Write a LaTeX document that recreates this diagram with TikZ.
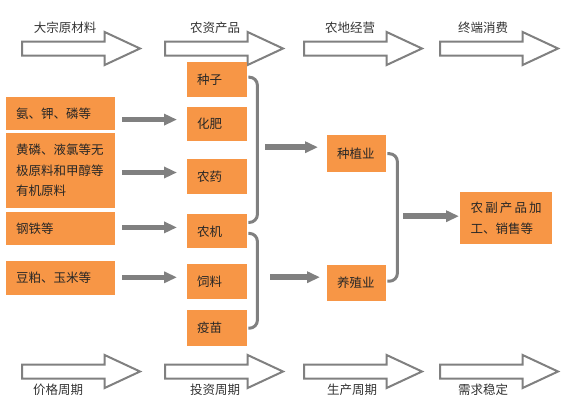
\documentclass[tikz,border=0pt]{standalone}
\usepackage{fontspec}
\setmainfont{Noto Sans CJK SC}
\usetikzlibrary{positioning}
\usetikzlibrary{shapes.arrows}
\usetikzlibrary{calc}
\usetikzlibrary{arrows.meta}
\definecolor{boxfill}{HTML}{F79646}
\definecolor{linegray}{HTML}{808080}
\XeTeXlinebreaklocale "zh"
\XeTeXlinebreakskip=0pt plus 3pt

\begin{document}
\begin{tikzpicture}[x=1pt, y=-1pt, font=\fontsize{12.5}{20.5}\selectfont,
        band/.style={draw=linegray, line width=2pt, fill=white, single arrow, anchor=tail,
            single arrow head extend=9.5pt, single arrow tip angle=50, single arrow head indent=0pt,
            inner sep=0pt, text height=6pt, text depth=6pt, minimum height=118pt},
        item/.style={fill=boxfill, text=black!85, inner xsep=10pt, inner ysep=0pt, align=left, anchor=north west},
        flow/.style={draw=linegray, line width=5.5pt, -{Triangle[length=13pt, width=11pt]}},
        brace/.style={draw=linegray, line width=3pt, rounded corners=8pt}]
        \useasboundingbox (0,0) rectangle (578,410);

        \node [band] (rawarr) at (21,48.5) {};
        \node [band] (agriarr) at (164,48.5) {};
        \node [band] (farmarr) at (303,48.5) {};
        \node [band] (consarr) at (439,48.5) {};
        \node [text=black!80] (rawlab) at (65,28) {大宗原材料};
        \node [text=black!80] (agrilab) at (215,28) {农资产品};
        \node [text=black!80] (farmlab) at (350,28) {农地经营};
        \node [text=black!80] (conslab) at (483,28) {终端消费};

        \node [band] (pricearr) at (21,371.5) {};
        \node [band] (investarr) at (164,371.5) {};
        \node [band] (prodarr) at (303,371.5) {};
        \node [band] (demandarr) at (439,371.5) {};
        \node [text=black!80] (pricelab) at (58,390) {价格周期};
        \node [text=black!80] (investlab) at (215,390) {投资周期};
        \node [text=black!80] (prodlab) at (352,390) {生产周期};
        \node [text=black!80] (demandlab) at (483,390) {需求稳定};

        \node [item, text width=89pt, minimum height=33pt] (ammonia) at (6,97) {氨、钾、磷等};
        \node [item, text width=89pt, minimum height=75pt] (phos) at (6,133) {黄磷、液氯等无\\极原料和甲醇等\\有机原料};
        \node [item, text width=89pt, minimum height=33pt] (steel) at (6,212) {钢铁等};
        \node [item, text width=89pt, minimum height=34pt] (soy) at (6,261) {豆粕、玉米等};

        \node [item, text width=40pt, minimum height=35pt] (seed) at (187,62) {种子};
        \node [item, text width=40pt, minimum height=34pt, below=9pt of seed] (fert) {化肥};
        \node [item, text width=40pt, minimum height=35pt, below=18pt of fert] (pest) {农药};
        \node [item, text width=40pt, minimum height=34pt, below=20pt of pest] (mach) {农机};
        \node [item, text width=40pt, minimum height=35pt, below=15pt of mach] (feed) {饲料};
        \node [item, text width=40pt, minimum height=36pt, below=11pt of feed] (vacc) {疫苗};

        \node [item, text width=39pt, minimum height=37pt] (plant) at (327,135) {种植业};
        \node [item, text width=39pt, minimum height=36pt] (breed) at (327,265) {养殖业};
        \node [item, text width=71pt, inner xsep=10.5pt, minimum height=52pt, align=justify] (proc) at (460,192) {农副产品加工、销售等};

        \draw [flow] ($(ammonia.east |- fert.west)+(7,-4)$) -- ($(fert.west)+(-10,-4)$);
        \draw [flow] ($(phos.east |- pest.west)+(7,-4)$) -- ($(pest.west)+(-10,-4)$);
        \draw [flow] ($(steel.east |- mach.west)+(7,-4)$) -- ($(mach.west)+(-10,-4)$);
        \draw [flow] ($(soy.east |- feed.west)+(7,-4)$) -- ($(feed.west)+(-10,-4)$);

        \draw [brace] ($(seed.east)+(1,-2.5)$) -- ++(9,0) |- ($(mach.east)+(1,-9)$);
        \draw [brace] ($(mach.east)+(1,2)$) -- ++(9,0) |- ($(vacc.east)+(1,0)$);
        \draw [flow] ($(seed.east |- plant.west)+(18,-6.5)$) -- ($(plant.west)+(-9,-6.5)$);
        \draw [flow] ($(seed.east |- breed.west)+(23,-6)$) -- ($(breed.west)+(-7,-6)$);

        \draw [brace] ($(plant.east)+(1,0)$) -- ++(10,0) |- ($(breed.east)+(1,-2)$);
        \draw [flow] ($(proc.west)+(-57,-2)$) -- ($(proc.west)+(-1,-2)$);
    \end{tikzpicture}
\end{document}
